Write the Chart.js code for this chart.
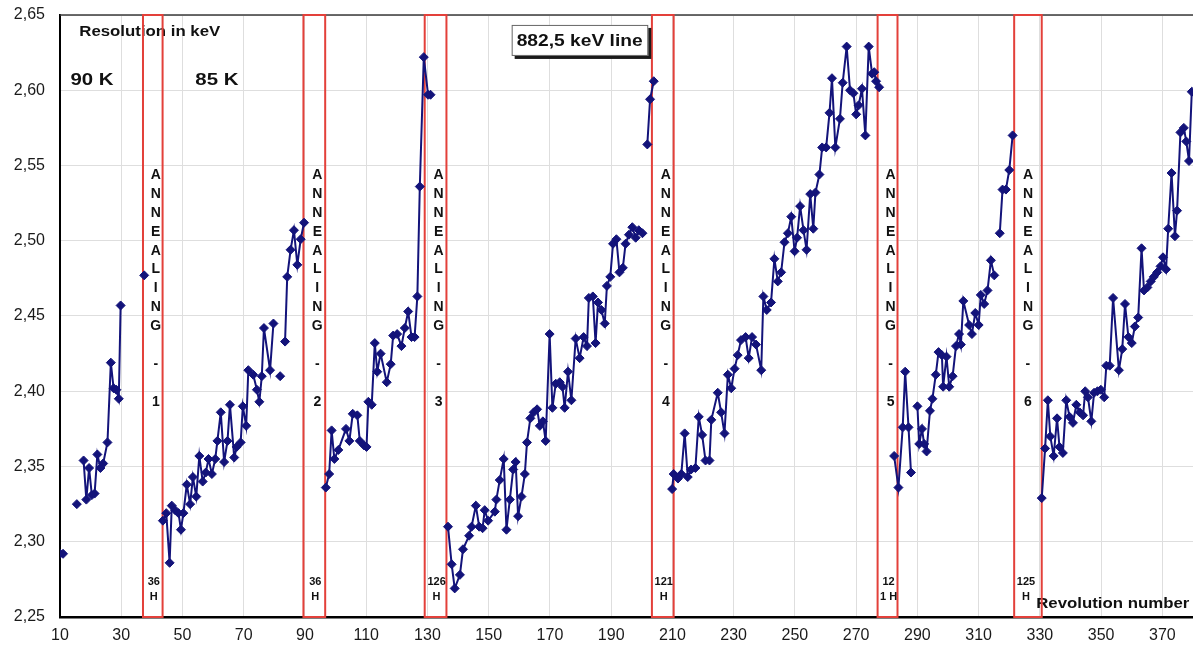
<!DOCTYPE html>
<html>
<head>
<meta charset="utf-8">
<script src="https://cdn.jsdelivr.net/npm/chart.js@4.4.1/dist/chart.umd.min.js"></script>
<style>
  html, body { margin: 0; padding: 0; background: #ffffff; }
  #wrap { width: 1193px; height: 648px; }
</style>
</head>
<body>
<div id="wrap"><canvas id="chart" width="1193" height="648"></canvas></div>
<script>
// Resolution of the 882,5 keV line versus revolution number.
// Each run sits between two annealing periods; null marks a break in the curve.

const run0Rev = [10, 11, null, 15.5, null, 17.7, 18.6, 19.5, 20.4, 21.3, 22.2, 23.2, 24.1, 25.5, 26.6, 27.5, 28.4, 29.2, 29.8, null, 37.5];
const run0Res = [2.292, 2.292, null, 2.325, null, 2.354, 2.328, 2.349, 2.331, 2.332, 2.358, 2.349, 2.352, 2.366, 2.419, 2.402, 2.401, 2.395, 2.457, null, 2.477];

const run1Rev = [43.6, 44.7, 45.8, 46.5, 47.6, 48.7, 49.5, 50.3, 51.4, 52.5, 53.4, 54.5, 55.5, 56.6, 57.6, 58.5, 59.6, 60.7, 61.4, 62.5, 63.6, 64.7, 65.5, 66.9, 67.7, 69.0, 69.7, 70.8, 71.5, 73.1, 74.3, 75.1, 75.9, 76.6, 78.6, 79.7, null, 81.9, null, 83.5, 84.2, 85.3, 86.4, 87.5, 88.6, 89.7];
const run1Res = [2.314, 2.319, 2.286, 2.324, 2.321, 2.319, 2.308, 2.319, 2.338, 2.325, 2.343, 2.330, 2.357, 2.340, 2.346, 2.355, 2.345, 2.355, 2.367, 2.386, 2.353, 2.367, 2.391, 2.356, 2.363, 2.366, 2.390, 2.377, 2.414, 2.411, 2.401, 2.393, 2.410, 2.442, 2.414, 2.445, null, 2.410, null, 2.433, 2.476, 2.494, 2.507, 2.484, 2.501, 2.512];

const run2Rev = [96.8, 97.9, 98.7, 99.6, 100.9, 103.4, 104.5, 105.6, 107.1, 107.9, 109.3, 110.1, 110.7, 111.8, 112.8, 113.6, 114.7, 116.7, 118.0, 118.8, 120.1, 121.5, 122.6, 123.7, 124.8, 125.8, 126.7, 127.5, 128.8, 130.2, 131.0];
const run2Res = [2.336, 2.345, 2.374, 2.355, 2.361, 2.375, 2.367, 2.385, 2.384, 2.367, 2.364, 2.363, 2.393, 2.391, 2.432, 2.413, 2.425, 2.406, 2.418, 2.437, 2.438, 2.430, 2.442, 2.453, 2.436, 2.436, 2.463, 2.536, 2.622, 2.597, 2.597];

const run3Rev = [136.7, 137.9, 138.9, 140.6, 141.6, 143.6, 144.4, 145.8, 146.9, 148.0, 148.7, 149.8, 152.0, 152.5, 153.6, 154.9, 155.8, 156.9, 158.0, 158.8, 159.6, 160.7, 161.8, 162.5, 163.6, 164.7, 165.8, 166.7, 167.7, 168.6, 169.9, 170.8, 171.9, 173.2, 174.1, 174.8, 175.9, 177.0, 178.4, 179.7, 181.0, 182.1, 182.7, 184.0, 184.9, 185.7, 186.8, 187.9, 188.6, 189.7, 190.6, 191.7, 192.7, 193.8, 194.7, 195.8, 196.9, 198.0, 199.0, 200.2, null, 201.8, 202.7, 203.9];
const run3Res = [2.310, 2.285, 2.269, 2.278, 2.295, 2.304, 2.310, 2.324, 2.310, 2.309, 2.321, 2.314, 2.320, 2.328, 2.341, 2.355, 2.308, 2.328, 2.348, 2.353, 2.317, 2.330, 2.345, 2.366, 2.382, 2.386, 2.388, 2.377, 2.380, 2.367, 2.438, 2.389, 2.405, 2.406, 2.403, 2.389, 2.413, 2.394, 2.435, 2.422, 2.436, 2.430, 2.462, 2.463, 2.432, 2.459, 2.454, 2.445, 2.470, 2.476, 2.498, 2.501, 2.479, 2.482, 2.498, 2.504, 2.509, 2.502, 2.507, 2.505, null, 2.564, 2.594, 2.606];

const run4Rev = [209.9, 210.4, 211.8, 212.9, 214.0, 215.0, 216.1, 217.5, 218.6, 219.7, 220.8, 222.1, 222.7, 224.8, 225.9, 227.0, 228.1, 229.2, 230.3, 231.3, 232.4, 233.9, 234.9, 236.0, 237.3, 239.0, 239.7, 240.8, 242.2, 243.3, 244.4, 245.5, 246.6, 247.7, 248.8, 249.9, 250.7, 251.7, 252.8, 253.8, 255.0, 256.0, 256.7, 258.0, 258.9, 260.2, 261.3, 262.1, 263.2, 264.7, 265.6, 266.9, 268.0, 269.1, 270.0, 270.8, 271.9, 273.0, 274.1, 275.2, 275.9, 276.5, 277.5];
const run4Res = [2.335, 2.345, 2.342, 2.345, 2.372, 2.343, 2.348, 2.349, 2.383, 2.371, 2.354, 2.354, 2.381, 2.399, 2.386, 2.372, 2.411, 2.402, 2.415, 2.424, 2.434, 2.436, 2.422, 2.436, 2.431, 2.414, 2.463, 2.454, 2.459, 2.488, 2.473, 2.479, 2.499, 2.505, 2.516, 2.493, 2.502, 2.523, 2.507, 2.494, 2.531, 2.508, 2.532, 2.544, 2.562, 2.562, 2.585, 2.608, 2.562, 2.581, 2.605, 2.629, 2.600, 2.598, 2.584, 2.590, 2.601, 2.570, 2.629, 2.611, 2.612, 2.606, 2.602];

const run5Rev = [282.4, 283.8, 285.2, 286.0, 287.1, 287.9, null, 290.0, 290.6, 291.5, 292.2, 293.0, 294.1, 294.9, 296.0, 296.9, 298.0, 298.4, 299.5, 300.4, 301.5, 302.6, 303.6, 304.2, 305.0, 306.9, 307.8, 308.9, 310.0, 310.7, 311.8, 312.9, 314.0, 315.1, null, 316.9, 317.8, 318.9, 320.0, 321.1];
const run5Res = [2.357, 2.336, 2.376, 2.413, 2.376, 2.346, null, 2.390, 2.365, 2.375, 2.365, 2.360, 2.387, 2.395, 2.411, 2.426, 2.424, 2.403, 2.423, 2.403, 2.410, 2.430, 2.438, 2.431, 2.460, 2.444, 2.438, 2.452, 2.444, 2.464, 2.458, 2.467, 2.487, 2.477, null, 2.505, 2.534, 2.534, 2.547, 2.570];

const run6Rev = [330.6, 331.7, 332.6, 333.4, 334.5, 335.6, 336.4, 337.5, 338.6, 339.7, 340.8, 341.9, 343.0, 344.1, 344.8, 345.7, 346.8, 347.7, 348.8, 349.9, 351.0, 351.7, 352.8, 353.9, 355.8, 356.9, 357.8, 358.9, 360.0, 361.0, 362.1, 363.2, 364.0, 365.1, 366.2, 367.2, 368.3, 369.4, 370.2, 371.2, 371.9, 373.0, 374.1, 374.8, 375.9, 377.0, 377.8, 378.7, 379.6];
const run6Res = [2.329, 2.362, 2.394, 2.370, 2.357, 2.382, 2.363, 2.359, 2.394, 2.383, 2.379, 2.391, 2.386, 2.384, 2.400, 2.396, 2.380, 2.399, 2.400, 2.401, 2.396, 2.417, 2.417, 2.462, 2.414, 2.428, 2.458, 2.436, 2.432, 2.443, 2.449, 2.495, 2.467, 2.469, 2.473, 2.476, 2.479, 2.483, 2.489, 2.481, 2.508, 2.545, 2.503, 2.520, 2.572, 2.575, 2.566, 2.553, 2.599];

// Annealing periods (revolution numbers) and their captions
const annealStart = [37.1, 89.5, 129.1, 203.3, 277.0, 321.6];
const annealEnd   = [43.5, 96.6, 136.2, 210.4, 283.5, 330.6];
const annealNumber = ['1', '2', '3', '4', '5', '6'];
const annealHours  = ['36\nH', '36\nH', '126\nH', '121\nH', '12\n1 H', '125\nH'];

// Axis ticks
const xTickValues = [10, 30, 50, 70, 90, 110, 130, 150, 170, 190, 210, 230, 250, 270, 290, 310, 330, 350, 370];
const yTickValues = [2.25, 2.30, 2.35, 2.40, 2.45, 2.50, 2.55, 2.60, 2.65];

const runs = [
  [run0Rev, run0Res], [run1Rev, run1Res], [run2Rev, run2Res], [run3Rev, run3Res],
  [run4Rev, run4Res], [run5Rev, run5Res], [run6Rev, run6Res]
];

// Build {x, y} points; a null entry becomes a gap that breaks the line
const points = [];
runs.forEach(([revs, vals], r) => {
  if (r > 0) points.push({ x: points[points.length - 1].x, y: null });
  revs.forEach((rev, i) => {
    if (vals[i] === null) {
      points.push({ x: points[points.length - 1].x, y: null });
    } else {
      points.push({ x: rev, y: vals[i] });
    }
  });
});

const FONT = '"Liberation Sans", Arial, Helvetica, sans-serif';
const NAVY = '#13137a';
const RED = '#e3403a';

function wideText(ctx, text, x, y, font, sx, align) {
  ctx.save();
  ctx.font = font;
  ctx.textBaseline = 'middle';
  ctx.textAlign = 'left';
  ctx.translate(x, y);
  ctx.scale(sx, 1);
  const w = ctx.measureText(text).width;
  const dx = align === 'center' ? -w / 2 : (align === 'right' ? -w : 0);
  ctx.fillText(text, dx, 0);
  ctx.restore();
}

const annotationPlugin = {
  id: 'annealing',
  beforeDatasetsDraw(chart) {
    const { ctx, chartArea: a, scales: { x, y } } = chart;
    ctx.save();
    // top frame line
    ctx.strokeStyle = '#3a3a3a';
    ctx.lineWidth = 1.5;
    ctx.beginPath();
    ctx.moveTo(a.left, a.top);
    ctx.lineTo(a.right, a.top);
    ctx.stroke();

    // free captions
    ctx.fillStyle = '#111';
    wideText(ctx, 'Resolution in keV', x.getPixelForValue(16.3), y.getPixelForValue(2.6387), 'bold 15px ' + FONT, 1.12, 'left');
    wideText(ctx, '90 K', x.getPixelForValue(13.4), y.getPixelForValue(2.6068), 'bold 17px ' + FONT, 1.2, 'left');
    wideText(ctx, '85 K', x.getPixelForValue(54.2), y.getPixelForValue(2.6068), 'bold 17px ' + FONT, 1.2, 'left');
    wideText(ctx, 'Revolution number', x.getPixelForValue(328.8), y.getPixelForValue(2.259), 'bold 15px ' + FONT, 1.12, 'left');

    // annealing frames
    ctx.strokeStyle = RED;
    ctx.lineWidth = 2;
    const letters = ['A', 'N', 'N', 'E', 'A', 'L', 'I', 'N', 'G', '', '-', ''];
    annealStart.forEach((s, i) => {
      const x1 = x.getPixelForValue(s);
      const x2 = x.getPixelForValue(annealEnd[i]);
      ctx.strokeRect(x1, a.top, x2 - x1, a.bottom - a.top);

      const cx = (x1 + x2) / 2 + ((x2 - x1) < 25 ? 3 : 0);
      ctx.fillStyle = '#111';
      ctx.font = 'bold 14px ' + FONT;
      ctx.textAlign = 'center';
      ctx.textBaseline = 'middle';
      const yA = y.getPixelForValue(2.5436);
      letters.concat([annealNumber[i]]).forEach((ch, k) => {
        if (ch) ctx.fillText(ch, cx, yA + k * 18.9);
      });

      ctx.font = 'bold 11px ' + FONT;
      const hl = annealHours[i].split('\n');
      hl.forEach((t, k) => {
        ctx.fillText(t, cx - 2, a.bottom - 35 + k * 15);
      });
    });
    ctx.restore();
  },
  afterDraw(chart) {
    const { ctx, scales: { x, y } } = chart;
    const bx = x.getPixelForValue(157.5);
    const by = y.getPixelForValue(2.6434);
    const bw = x.getPixelForValue(202.1) - bx;
    const bh = y.getPixelForValue(2.6228) - by;
    ctx.save();
    ctx.fillStyle = '#1a1a1a';
    ctx.fillRect(bx + 3, by + 3, bw, bh);
    ctx.fillStyle = '#ffffff';
    ctx.fillRect(bx, by, bw, bh);
    ctx.strokeStyle = '#666';
    ctx.lineWidth = 1;
    ctx.strokeRect(bx + 0.5, by + 0.5, bw - 1, bh - 1);
    ctx.fillStyle = '#111';
    wideText(ctx, '882,5 keV line', bx + 5, by + bh / 2 + 1, 'bold 17px ' + FONT, 1.13, 'left');
    ctx.restore();
  }
};

new Chart(document.getElementById('chart'), {
  type: 'line',
  data: {
    datasets: [{
      data: points,
      borderColor: NAVY,
      backgroundColor: NAVY,
      borderWidth: 2,
      pointStyle: 'rectRot',
      pointRadius: 4.5,
      pointBorderWidth: 1,
      pointBackgroundColor: NAVY,
      pointBorderColor: NAVY,
      spanGaps: false,
      tension: 0
    }]
  },
  options: {
    responsive: false,
    animation: false,
    devicePixelRatio: 1,
    layout: { autoPadding: false, padding: { top: 15, right: 0, left: 0, bottom: 0 } },
    plugins: { legend: { display: false }, tooltip: { enabled: false } },
    scales: {
      x: {
        type: 'linear',
        min: 10,
        max: 380,
        afterBuildTicks: s => { s.ticks = xTickValues.map(v => ({ value: v })); },
        afterFit: s => { s.height = 31; s.paddingLeft = 0; s.paddingRight = 0; },
        ticks: {
          autoSkip: false,
          maxRotation: 0,
          padding: 9,
          color: '#1a1a1a',
          font: { family: FONT, size: 16 },
          callback: v => String(v)
        },
        grid: { color: '#dedede', lineWidth: 1, drawTicks: false },
        border: { display: true, color: '#000', width: 2.5 }
      },
      y: {
        type: 'linear',
        min: 2.25,
        max: 2.65,
        afterBuildTicks: s => { s.ticks = yTickValues.map(v => ({ value: v })); },
        afterFit: s => { s.width = 60; s.paddingTop = 0; s.paddingBottom = 0; },
        ticks: {
          padding: 15,
          color: '#1a1a1a',
          font: { family: FONT, size: 16 },
          callback: v => v.toFixed(2).replace('.', ',')
        },
        grid: { color: '#dedede', lineWidth: 1, drawTicks: false },
        border: { display: true, color: '#000', width: 2 }
      }
    }
  },
  plugins: [annotationPlugin]
});
</script>
</body>
</html>
